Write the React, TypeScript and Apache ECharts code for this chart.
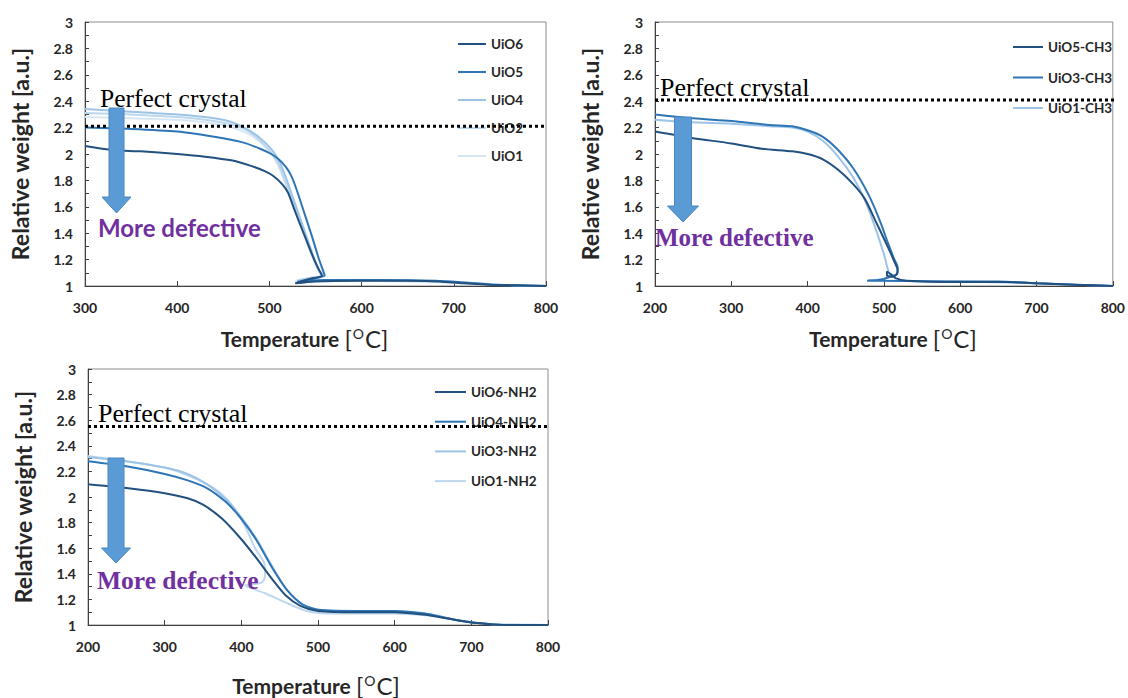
import React, { useEffect, useRef } from "react";
import * as echarts from "echarts";

// ---------- Data ----------
// Panel 1: UiO-66 series (temperature 300–800 °C)
const uio6: [number, number][] = [[300,2.06],[330,2.03],[360,2.02],[400,2.00],[430,1.98],[460,1.95],[480,1.91],[495,1.87],[505,1.83],[514,1.77],[520,1.71],[526,1.60],[532,1.49],[540,1.35],[548,1.21],[554,1.12],[557,1.08],[542,1.05],[528,1.02],[550,1.035],[600,1.04],[650,1.04],[685,1.035],[710,1.02],[740,1.01],[800,1.0]];
const uio5: [number, number][] = [[300,2.20],[350,2.19],[400,2.17],[440,2.13],[470,2.09],[490,2.04],[502,2.00],[510,1.96],[518,1.90],[524,1.83],[530,1.72],[538,1.55],[546,1.38],[553,1.22],[558,1.12],[560,1.08],[546,1.055],[530,1.03],[560,1.045],[620,1.045],[680,1.04],[705,1.03],[740,1.01],[800,1.0]];
const uio4: [number, number][] = [[300,2.34],[350,2.32],[400,2.30],[430,2.28],[455,2.25],[475,2.19],[490,2.12],[503,2.03],[511,1.94],[518,1.82],[524,1.70],[530,1.58],[538,1.42],[546,1.26],[553,1.13],[558,1.08],[545,1.06],[532,1.04],[570,1.045],[650,1.04],[700,1.03],[750,1.01],[800,1.0]];
const uio2: [number, number][] = [[300,2.31],[350,2.30],[400,2.28],[430,2.26],[455,2.23],[475,2.18],[490,2.10],[502,2.01],[510,1.92],[517,1.80],[524,1.66],[531,1.53],[539,1.37],[547,1.22],[554,1.11],[557,1.08],[544,1.06],[530,1.04],[570,1.04],[650,1.04],[700,1.03],[750,1.01],[800,1.0]];
const uio1: [number, number][] = [[300,2.28],[350,2.27],[400,2.26],[430,2.24],[455,2.21],[475,2.16],[490,2.09],[501,2.01],[509,1.92],[516,1.80],[523,1.67],[530,1.54],[538,1.38],[546,1.23],[553,1.12],[556,1.08],[543,1.06],[528,1.04],[570,1.04],[650,1.035],[700,1.025],[750,1.01],[800,1.0]];

// Panel 2: UiO-66-CH3 series (200–800 °C)
const uio5ch3: [number, number][] = [[200,2.17],[250,2.12],[300,2.08],[340,2.04],[380,2.02],[400,2.00],[420,1.96],[440,1.88],[460,1.77],[475,1.66],[490,1.48],[500,1.36],[508,1.26],[514,1.18],[518,1.12],[517,1.09],[511,1.07],[504,1.08],[504,1.11],[509,1.09],[515,1.06],[530,1.04],[600,1.03],[660,1.03],[700,1.02],[750,1.01],[800,1.0]];
const uio3ch3: [number, number][] = [[200,2.30],[250,2.27],[300,2.25],[350,2.22],[380,2.21],[400,2.18],[420,2.13],[440,2.03],[460,1.89],[480,1.69],[495,1.49],[505,1.33],[513,1.21],[518,1.14],[517,1.09],[508,1.07],[498,1.05],[478,1.04],[500,1.04],[560,1.035],[650,1.035],[700,1.02],[750,1.01],[800,1.0]];
const uio1ch3: [number, number][] = [[200,2.26],[250,2.24],[300,2.23],[350,2.21],[380,2.20],[400,2.17],[420,2.10],[440,1.98],[460,1.82],[475,1.65],[490,1.42],[500,1.24],[505,1.13],[508,1.07],[495,1.05],[480,1.045],[520,1.04],[600,1.035],[700,1.02],[750,1.01],[800,1.0]];

// Panel 3: UiO-66-NH2 series (200–800 °C)
const uio6nh2: [number, number][] = [[200,2.10],[250,2.07],[300,2.03],[330,1.99],[350,1.94],[375,1.83],[400,1.67],[420,1.52],[440,1.36],[458,1.23],[477,1.15],[500,1.11],[550,1.10],[600,1.10],[640,1.08],[670,1.05],[700,1.02],[750,1.0],[800,1.0]];
const uio4nh2: [number, number][] = [[200,2.28],[250,2.24],[300,2.18],[330,2.13],[355,2.07],[380,1.96],[400,1.83],[420,1.66],[440,1.45],[460,1.27],[480,1.16],[500,1.12],[550,1.11],[600,1.11],[640,1.09],[670,1.05],[700,1.02],[750,1.0],[800,1.0]];
const uio3nh2: [number, number][] = [[200,2.31],[250,2.28],[300,2.23],[330,2.18],[355,2.10],[380,1.98],[400,1.84],[420,1.67],[440,1.46],[460,1.27],[480,1.16],[500,1.12],[550,1.11],[610,1.10],[650,1.08],[680,1.04],[700,1.02],[750,1.0],[800,1.0]];
const uio1nh2: [number, number][] = [[200,2.32],[250,2.28],[300,2.23],[330,2.17],[355,2.10],[375,2.02],[390,1.92],[405,1.77],[418,1.60],[430,1.48],[431,1.38],[426,1.33],[405,1.31],[430,1.25],[460,1.17],[485,1.11],[520,1.09],[600,1.09],[650,1.07],[690,1.03],[720,1.01],[800,1.0]];

// "Perfect crystal" reference levels
const perfect1: [number, number][] = [[300, 2.21], [801, 2.21]];
const perfect2: [number, number][] = [[200, 2.41], [809, 2.41]];
const perfect3: [number, number][] = [[200, 2.55], [809, 2.55]];

// Axis ranges / ticks
const xRanges: [number, number][] = [[300, 800], [200, 800], [200, 800]];
const yRange: [number, number] = [1, 3];

const legend1 = ["UiO6", "UiO5", "UiO4", "UiO2", "UiO1"];
const legend2 = ["UiO5-CH3", "UiO3-CH3", "UiO1-CH3"];
const legend3 = ["UiO6-NH2", "UiO4-NH2", "UiO3-NH2", "UiO1-NH2"];

// ---------- Styles ----------
const C_DARK = "#22507f";
const C_MID = "#2e75b6";
const C_L1 = "#9dc3e6";
const C_L2 = "#bdd7ee";
const C_L3 = "#d9e7f5";
const SANS = "Lato, 'Open Sans', sans-serif";
const SERIF = "'Liberation Serif', 'DejaVu Serif', serif";
const TXT = "#262626";
const PURPLE = "#7030a0";
const ARROW = "#5b9bd5";

function line(name: string, data: [number, number][], color: string, idx: number) {
  return {
    type: "line",
    name,
    data,
    xAxisIndex: idx,
    yAxisIndex: idx,
    symbol: "none",
    showSymbol: false,
    smooth: 0.25,
    lineStyle: { color, width: 2 },
    itemStyle: { color },
    z: 3,
  };
}

function perfect(data: [number, number][], idx: number) {
  return {
    type: "line",
    name: "Perfect crystal",
    data,
    xAxisIndex: idx,
    yAxisIndex: idx,
    symbol: "none",
    clip: false,
    silent: true,
    lineStyle: { color: "#000", width: 3, type: [3, 3], cap: "butt" },
    z: 5,
  };
}

function arrow(cx: number, top: number, headY: number, tip: number, shaftHalf: number, headHalf: number) {
  return {
    type: "polygon",
    shape: {
      points: [
        [cx - shaftHalf, top],
        [cx + shaftHalf, top],
        [cx + shaftHalf, headY],
        [cx + headHalf, headY],
        [cx, tip],
        [cx - headHalf, headY],
        [cx - shaftHalf, headY],
      ],
    },
    style: { fill: ARROW, stroke: "#4a86c0", lineWidth: 1 },
    z: 10,
  };
}

function txt(x: number, y: number, text: string, font: string, size: number, color: string, weight: string) {
  return {
    type: "text",
    x,
    y,
    style: { text, fontFamily: font, fontSize: size, fill: color, fontWeight: weight, verticalAlign: "middle" },
    z: 10,
  };
}

const grids = [
  { left: 85, top: 22, width: 461, height: 264 },
  { left: 655, top: 22, width: 458, height: 264 },
  { left: 88, top: 369, width: 460, height: 261 },
];

const xNameGaps = [40, 40, 48];
const xNamePads = [[0, 22, 0, 0], [0, 0, 0, 18], [0, 4, 0, 0]];

function buildOption() {
  return {
    animation: false,
    backgroundColor: "#fff",
    grid: grids.map((g) => ({ ...g, show: true, borderColor: "#8c8c8c", borderWidth: 1, backgroundColor: "transparent" })),
    xAxis: xRanges.map((r, i) => ({
      type: "value",
      gridIndex: i,
      min: r[0],
      max: r[1],
      interval: 100,
      axisLine: { show: true, onZero: false, lineStyle: { color: "#404040", width: 1 } },
      axisTick: { show: true, inside: true, length: 5, lineStyle: { color: "#404040" } },
      splitLine: { show: false },
      axisLabel: { fontFamily: SANS, fontWeight: "bold", fontSize: 14, color: TXT, margin: 14 },
      name: "Temperature {n|[}{sup|O}{n|C]}",
      nameLocation: "middle",
      nameGap: xNameGaps[i],
      nameTextStyle: {
        fontFamily: SANS,
        fontWeight: "bold",
        fontSize: 21,
        color: TXT,
        padding: xNamePads[i],
        rich: {
          n: { fontFamily: SANS, fontWeight: "normal", fontSize: 24, color: TXT },
          sup: { fontFamily: SANS, fontWeight: "normal", fontSize: 14, color: TXT, verticalAlign: "top", padding: [0, 1, 9, 1] },
        },
      },
    })),
    yAxis: [0, 1, 2].map((i) => ({
      type: "value",
      gridIndex: i,
      min: yRange[0],
      max: yRange[1],
      interval: 0.2,
      axisLine: { show: true, onZero: false, lineStyle: { color: "#404040", width: 1 } },
      axisTick: { show: true, inside: true, length: 4, lineStyle: { color: "#404040" } },
      minorTick: { show: true, splitNumber: 2, length: 4, lineStyle: { color: "#404040" } },
      splitLine: { show: false },
      minorSplitLine: { show: false },
      axisLabel: { fontFamily: SANS, fontWeight: "bold", fontSize: 14, color: TXT, margin: 12 },
      name: "Relative weight [a.u.]",
      nameLocation: "middle",
      nameGap: 54,
      nameTextStyle: { fontFamily: SANS, fontWeight: "bold", fontSize: 23, color: TXT },
    })),
    legend: [
      { data: legend1, left: 457, top: 37, itemGap: 14, itemWidth: 28, itemHeight: 14 },
      { data: legend2, left: 1012, top: 40, itemGap: 16.5, itemWidth: 30, itemHeight: 14 },
      { data: legend3, left: 434, top: 385, itemGap: 15.7, itemWidth: 31, itemHeight: 14 },
    ].map((l) => ({
      ...l,
      orient: "vertical",
      padding: 0,
      selectedMode: false,
      itemStyle: { opacity: 0, borderWidth: 0 },
      textStyle: { fontFamily: SANS, fontWeight: "bold", fontSize: 13.5, color: TXT },
    })),
    series: [
      line("UiO1", uio1, C_L3, 0),
      line("UiO2", uio2, C_L2, 0),
      line("UiO4", uio4, C_L1, 0),
      line("UiO5", uio5, C_MID, 0),
      line("UiO6", uio6, C_DARK, 0),
      perfect(perfect1, 0),
      line("UiO1-CH3", uio1ch3, C_L1, 1),
      line("UiO3-CH3", uio3ch3, C_MID, 1),
      line("UiO5-CH3", uio5ch3, C_DARK, 1),
      perfect(perfect2, 1),
      line("UiO1-NH2", uio1nh2, C_L2, 2),
      line("UiO3-NH2", uio3nh2, C_L1, 2),
      line("UiO4-NH2", uio4nh2, C_MID, 2),
      line("UiO6-NH2", uio6nh2, C_DARK, 2),
      perfect(perfect3, 2),
    ],
    graphic: [
      txt(100, 98, "Perfect crystal", SERIF, 25.5, "#000", "normal"),
      arrow(116.5, 108, 197, 213, 7.5, 14.5),
      txt(98, 227, "More defective", SANS, 24, PURPLE, "bold"),

      txt(660, 87, "Perfect crystal", SERIF, 26, "#000", "normal"),
      arrow(683, 117, 206, 222, 8.5, 15.5),
      txt(655, 237, "More defective", SERIF, 25, PURPLE, "bold"),

      txt(98, 413, "Perfect crystal", SERIF, 26, "#000", "normal"),
      arrow(116, 458, 548, 563, 8, 14.5),
      txt(97, 580, "More defective", SERIF, 25.5, PURPLE, "bold"),
    ],
  };
}

export default function App() {
  const ref = useRef<HTMLDivElement>(null);
  useEffect(() => {
    if (!ref.current) return;
    const chart = echarts.init(ref.current, null, { renderer: "svg" });
    chart.setOption(buildOption() as any);
    return () => chart.dispose();
  }, []);
  return (
    <div
      ref={ref}
      style={{ position: "absolute", left: 0, top: 0, width: 1128, height: 698, background: "#fff" }}
    />
  );
}
